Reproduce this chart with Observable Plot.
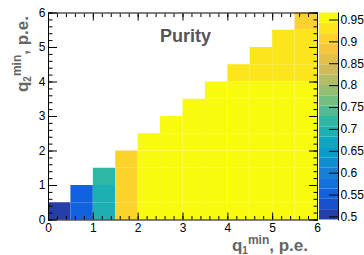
<!DOCTYPE html>
<html>
<head>
<meta charset="utf-8">
<script src="https://cdn.jsdelivr.net/npm/d3@7"></script>
<script src="https://cdn.jsdelivr.net/npm/@observablehq/plot@0.6"></script>
<style>
  html, body { margin: 0; padding: 0; background: #fff; }
  #wrap { position: relative; width: 364px; height: 255px; overflow: hidden; font-family: "Liberation Sans", Arial, sans-serif; }
  #wrap svg { position: absolute; left: 0; top: 0; }
  .lbl { position: absolute; color: #666; font-weight: bold; font-size: 17px; white-space: nowrap; line-height: 1; }
  .lbl sub { font-size: 10px; vertical-align: -3px; }
  .lbl sup { font-size: 12px; vertical-align: 7px; }
  #title { position: absolute; left: 160px; top: 27px; color: #555; font-weight: bold; font-size: 18px; line-height: 1; }
</style>
</head>
<body>
<div id="wrap">
  <div id="title">Purity</div>
  <div class="lbl" id="xlab">q<sub>1</sub><sup>min</sup>, p.e.</div>
  <div class="lbl" id="ylab">q<sub>2</sub><sup>min</sup>, p.e.</div>
</div>
<script>
// ---- data ----
const q1BinLow = [0, 0.5, 1, 1.5, 2, 2.5, 3, 3.5, 4, 4.5, 5, 5.5];
const binWidth = 0.5;
// purity per q1 column, listed from q2 = 0 upward (bin width 0.5)
const purityCol0  = [0.50];
const purityCol1  = [0.555, 0.555];
const purityCol2  = [0.69, 0.69, 0.72];
const purityCol3  = [0.91, 0.91, 0.91, 0.91];
const purityCol4  = [0.96, 0.96, 0.96, 0.96, 0.96];
const purityCol5  = [0.96, 0.96, 0.96, 0.96, 0.96, 0.96];
const purityCol6  = [0.96, 0.96, 0.96, 0.96, 0.96, 0.96, 0.96];
const purityCol7  = [0.96, 0.96, 0.96, 0.96, 0.96, 0.96, 0.96, 0.96];
const purityCol8  = [0.96, 0.96, 0.96, 0.96, 0.96, 0.96, 0.96, 0.96, 0.935];
const purityCol9  = [0.96, 0.96, 0.96, 0.96, 0.96, 0.96, 0.96, 0.96, 0.935, 0.935];
const purityCol10 = [0.96, 0.96, 0.96, 0.96, 0.96, 0.96, 0.96, 0.96, 0.935, 0.935, 0.935];
const purityCol11 = [0.96, 0.96, 0.96, 0.96, 0.96, 0.96, 0.96, 0.96, 0.935, 0.935, 0.935, 0.91];
const purityColumns = [purityCol0, purityCol1, purityCol2, purityCol3, purityCol4, purityCol5,
  purityCol6, purityCol7, purityCol8, purityCol9, purityCol10, purityCol11];

const xTicks = [0, 1, 2, 3, 4, 5, 6];
const yTicks = [0, 1, 2, 3, 4, 5, 6];
const zTicks = [0.5, 0.55, 0.6, 0.65, 0.7, 0.75, 0.8, 0.85, 0.9, 0.95];
const zMin = 0.493, zMax = 0.966, nBands = 20;

// ---- palette (ROOT kBird) ----
const birdR = [0.2082, 0.0592, 0.0780, 0.0232, 0.1802, 0.5301, 0.8186, 0.9956, 0.9764];
const birdG = [0.1664, 0.3599, 0.5041, 0.6419, 0.7178, 0.7492, 0.7328, 0.7862, 0.9832];
const birdB = [0.5293, 0.8684, 0.8385, 0.7914, 0.6425, 0.4662, 0.3499, 0.1968, 0.0539];
const birdStops = birdR.map((r, i) => d3.rgb(r * 255, birdG[i] * 255, birdB[i] * 255));
const bird = d3.piecewise(d3.interpolateRgb, birdStops);
const bandStep = (zMax - zMin) / nBands;
const thresholds = d3.range(1, nBands).map(i => zMin + i * bandStep);
const bandColors = d3.range(nBands).map(i => bird(Math.min(1, (i + 0.99) / nBands)));

const cells = purityColumns.flatMap((col, i) => col.map((v, j) => ({
  x1: q1BinLow[i], x2: q1BinLow[i] + binWidth, y1: j * binWidth, y2: (j + 1) * binWidth, v
})));
const bands = d3.range(nBands).map(i => ({y1: zMin + i * bandStep, y2: zMin + (i + 1) * bandStep, v: zMin + (i + 0.5) * bandStep}));

const color = {type: "threshold", domain: thresholds, range: bandColors};
const minorXY = d3.range(0, 31).map(i => i * 0.2);
const font = {fontFamily: "Liberation Sans, Arial, sans-serif", fontSize: "12px", color: "#000", background: "transparent"};

const main = Plot.plot({
  width: 364, height: 255,
  marginLeft: 48, marginRight: 47, marginTop: 12.5, marginBottom: 35.5,
  style: font,
  x: {domain: [0, 6], label: null},
  y: {domain: [0, 6], label: null},
  color,
  marks: [
    Plot.rect(cells, {x1: "x1", x2: "x2", y1: "y1", y2: "y2", fill: "v"}),
    Plot.axisX(xTicks, {anchor: "bottom", tickSize: 0, tickPadding: 3, label: null, tickFormat: d => String(d)}),
    Plot.axisX(xTicks, {anchor: "bottom", tickSize: -7, fill: "none", label: null}),
    Plot.axisX(minorXY, {anchor: "bottom", tickSize: -3.5, fill: "none", label: null}),
    Plot.axisX(xTicks, {anchor: "top", tickSize: -7, fill: "none", label: null}),
    Plot.axisX(minorXY, {anchor: "top", tickSize: -3.5, fill: "none", label: null}),
    Plot.axisY(yTicks, {anchor: "left", tickSize: 0, tickPadding: 3, label: null, tickFormat: d => String(d)}),
    Plot.axisY(yTicks, {anchor: "left", tickSize: -9, fill: "none", label: null}),
    Plot.axisY(minorXY, {anchor: "left", tickSize: -4.5, fill: "none", label: null}),
    Plot.axisY(yTicks, {anchor: "right", tickSize: -9, fill: "none", label: null}),
    Plot.axisY(minorXY, {anchor: "right", tickSize: -4.5, fill: "none", label: null}),
    Plot.frame({stroke: "#000"})
  ]
});

const bar = Plot.plot({
  width: 364, height: 255,
  marginLeft: 319, marginRight: 26, marginTop: 12.5, marginBottom: 35.5,
  style: font,
  x: {domain: [0, 1], axis: null},
  y: {domain: [zMin, zMax], label: null},
  color,
  marks: [
    Plot.rect(bands, {y1: "y1", y2: "y2", fill: "v"}),
    Plot.axisY(zTicks, {anchor: "right", tickSize: 0, tickPadding: 2, label: null, tickFormat: d => String(+d.toFixed(2))}),
    Plot.axisY(zTicks, {anchor: "right", tickSize: -10, fill: "none", label: null}),
    Plot.frame({anchor: "right", stroke: "#000"})
  ]
});

const wrap = document.getElementById("wrap");
wrap.insertBefore(bar, wrap.firstChild);
wrap.insertBefore(main, wrap.firstChild);

const xlab = document.getElementById("xlab");
xlab.style.right = (364 - 308) + "px";
xlab.style.top = "234px";
const ylab = document.getElementById("ylab");
ylab.style.transformOrigin = "right top";
ylab.style.right = (364 - 11) + "px";
ylab.style.top = "16px";
ylab.style.transform = "rotate(-90deg)";
</script>
</body>
</html>
